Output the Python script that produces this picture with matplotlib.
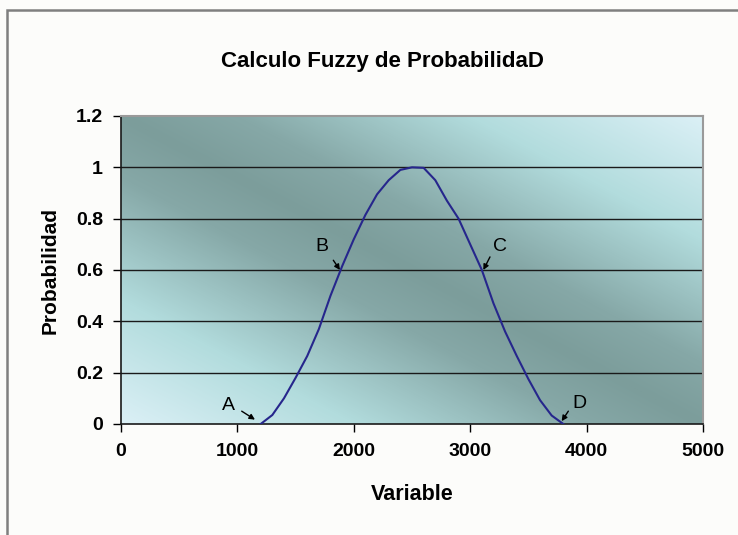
import numpy as np
import matplotlib
matplotlib.use("Agg")
import matplotlib.pyplot as plt
from matplotlib.colors import LinearSegmentedColormap
from matplotlib.patches import Rectangle

# ---- data ----
variable = [1200, 1300, 1400, 1500, 1600, 1700, 1800, 1900, 2000, 2100, 2200, 2300, 2400,
            2500, 2600, 2700, 2800, 2900, 3000, 3100, 3200, 3300, 3400, 3500, 3600, 3700, 3800]
probabilidad = [0.0, 0.035, 0.10, 0.18, 0.265, 0.37, 0.50, 0.615, 0.72, 0.815, 0.895, 0.95, 0.99,
                1.0, 0.998, 0.95, 0.87, 0.80, 0.70, 0.60, 0.47, 0.36, 0.265, 0.175, 0.093, 0.033, 0.0]

labels = ["A", "B", "C", "D"]
label_text_pos = [(919, 0.074), (1724, 0.69), (3256, 0.69), (3937, 0.08)]
arrow_tail = [(1037, 0.05), (1824, 0.638), (3170, 0.651), (3843, 0.05)]
arrow_head = [(1151, 0.017), (1881, 0.6), (3113, 0.6), (3786, 0.011)]

x_ticks = [0, 1000, 2000, 3000, 4000, 5000]
y_ticks = [0, 0.2, 0.4, 0.6, 0.8, 1.0, 1.2]
y_tick_labels = ["0", "0.2", "0.4", "0.6", "0.8", "1", "1.2"]

title = "Calculo Fuzzy de ProbabilidaD"
xlabel = "Variable"
ylabel = "Probabilidad"

# ---- figure ----
plt.rcParams['font.family'] = ['Liberation Sans', 'DejaVu Sans']
fig = plt.figure(figsize=(7.38, 5.35), dpi=100, facecolor='#fcfcfa')

# chart-area frame (extends beyond right/bottom edges)
fig.patches.append(Rectangle((7 / 738, -0.1), 1.2, 1 - 10 / 535 + 0.1, transform=fig.transFigure,
                             fill=False, edgecolor='#7f7f7f', linewidth=1.8, zorder=0))

ax = fig.add_axes([121 / 738, 1 - 424 / 535, (703 - 121) / 738, (424 - 116) / 535])
ax.set_xlim(0, 5000)
ax.set_ylim(0, 1.2)

# gradient background
cmap = LinearSegmentedColormap.from_list(
    'bg', [(0.0, '#7c9d9b'), (0.2, '#86a8a7'), (0.6, '#b2dcdd'), (1.0, '#dbf0f6')])
gx, gy = np.meshgrid(np.linspace(0, 1, 300), np.linspace(0, 1, 300))
t = np.abs(gx + gy - 1.0)
ax.imshow(t, cmap=cmap, extent=[0, 1, 0, 1], origin='lower', transform=ax.transAxes,
          aspect='auto', zorder=0, vmin=0, vmax=1, interpolation='bilinear')

# gridlines
for yv in y_ticks[1:-1]:
    ax.axhline(yv, color='#1a1a1a', linewidth=1.0, zorder=1)

ax.plot(variable, probabilidad, color='#26268c', linewidth=1.5, zorder=3)

for lab, tp, tail, head in zip(labels, label_text_pos, arrow_tail, arrow_head):
    ax.text(tp[0], tp[1], lab, fontsize=14, ha='center', va='center', color='black', zorder=4)
    ax.annotate('', xy=head, xytext=tail,
                arrowprops=dict(arrowstyle='-|>', color='black', lw=1.0, mutation_scale=8,
                                shrinkA=0, shrinkB=0), zorder=4)

ax.set_xticks(x_ticks)
ax.set_xticklabels([str(v) for v in x_ticks])
ax.set_yticks(y_ticks)
ax.set_yticklabels(y_tick_labels)
ax.tick_params(axis='both', direction='out', length=6, width=1, color='black',
               labelsize=14)
ax.tick_params(axis='x', pad=8)
ax.tick_params(axis='y', pad=7)
for lbl in ax.get_xticklabels() + ax.get_yticklabels():
    lbl.set_fontweight('bold')

ax.spines['left'].set_color('#1a1a1a')
ax.spines['bottom'].set_color('#1a1a1a')
ax.spines['left'].set_linewidth(1.2)
ax.spines['bottom'].set_linewidth(1.2)
ax.spines['top'].set_color('#9a9a9a')
ax.spines['right'].set_color('#9a9a9a')
ax.spines['top'].set_linewidth(1.5)
ax.spines['right'].set_linewidth(1.5)

ax.set_xlabel(xlabel, fontsize=15.5, fontweight='bold', va='center')
ax.xaxis.set_label_coords(0.5, (424 - 494) / 308)
ax.set_ylabel(ylabel, fontsize=15, fontweight='bold', va='center', ha='center')
ax.yaxis.set_label_coords((50 - 121) / 582, 0.5)

fig.text(382 / 738, 1 - 61 / 535, title, fontsize=16, fontweight='bold', ha='center', va='center')

fig.savefig('out.png', dpi=100, facecolor=fig.get_facecolor())
